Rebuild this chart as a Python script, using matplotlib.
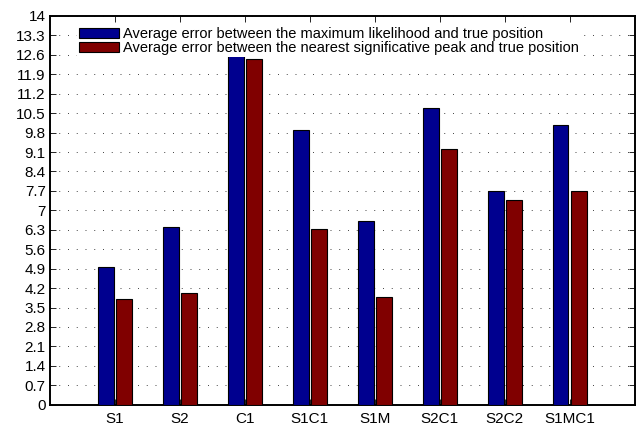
import numpy as np
import matplotlib
matplotlib.use('Agg')
import matplotlib.pyplot as plt
from matplotlib.ticker import FuncFormatter

plt.rcParams['font.family'] = ['Liberation Sans', 'DejaVu Sans']

categories = ['S1', 'S2', 'C1', 'S1C1', 'S1M', 'S2C1', 'S2C2', 'S1MC1']
max_likelihood = [4.95, 6.41, 12.60, 9.90, 6.61, 10.70, 7.70, 10.06]
nearest_peak = [3.80, 4.01, 12.45, 6.32, 3.87, 9.21, 7.36, 7.70]
labels = ['Average error between the maximum likelihood and true position',
          'Average error between the nearest significative peak and true position']

fig = plt.figure(figsize=(6.37, 4.26), dpi=100)
ax = fig.add_axes([0.0785, 0.05, 0.918, 0.9125])

x = np.arange(1, len(categories) + 1)
w = 0.24
ax.bar(x - 0.14, max_likelihood, w, color='#00008f', edgecolor='black', linewidth=0.8, label=labels[0], zorder=3)
ax.bar(x + 0.14, nearest_peak, w, color='#800000', edgecolor='black', linewidth=0.8, label=labels[1], zorder=3)

ax.set_xlim(0, 9)
ax.set_ylim(0, 14)
ax.set_xticks(x)
ax.set_xticklabels(categories)
yt = np.round(np.arange(0, 14.01, 0.7), 1)
ax.set_yticks(yt)
ax.yaxis.set_major_formatter(FuncFormatter(lambda v, p: '%g' % round(v, 1)))
ax.tick_params(direction='in', top=True, right=True, labelsize=11, length=4, width=0.6)
ax.tick_params(axis='y', pad=3)
ax.tick_params(axis='x', pad=5)
ax.yaxis.grid(True, linestyle=(0, (1, 8)), color='#444444', linewidth=0.7, zorder=0)
ax.set_axisbelow(True)
for s in ax.spines.values():
    s.set_linewidth(1.4)

leg = ax.legend(loc='upper left', bbox_to_anchor=(0.046, 0.977), fontsize=10.5,
                handlelength=2.74, handleheight=0.68, handletextpad=0.25,
                labelspacing=0.0, borderpad=0.15, borderaxespad=0.0,
                frameon=True, fancybox=False, framealpha=1.0)
leg.get_frame().set_edgecolor('white')
leg.get_frame().set_linewidth(0)

fig.savefig('out.png', dpi=100)
